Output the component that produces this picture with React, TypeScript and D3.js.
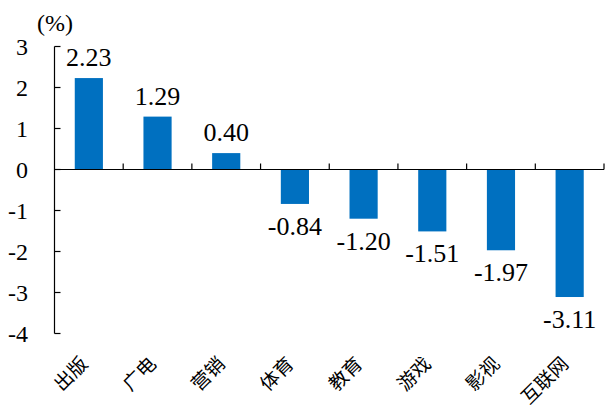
import React from "react";
import * as d3 from "d3";

const categories = ["出版", "广电", "营销", "体育", "教育", "游戏", "影视", "互联网"];
const values = [2.23, 1.29, 0.4, -0.84, -1.2, -1.51, -1.97, -3.11];
const yTicks = [3, 2, 1, 0, -1, -2, -3, -4];

export default function App() {
  const W = 605, H = 410;
  const x0 = 54.5, x1 = 604;
  const x = d3.scaleBand<string>().domain(categories).range([x0, x1]).paddingInner(0.59).paddingOuter(0.295);
  const step = (x1 - x0) / categories.length;
  const y = d3.scaleLinear().domain([-4, 3]).range([333.5, 46.5]);
  const serif: React.CSSProperties = { fontFamily: "Liberation Serif" };
  const cjk: React.CSSProperties = { fontFamily: "Noto Sans CJK SC" };
  return (
    <svg width={W} height={H} style={{ position: "absolute", left: 0, top: 0 }}>
      <text x={55} y={31} style={serif} fontSize={24} textAnchor="middle">(%)</text>
      {values.map((v, i) => {
        const c = categories[i];
        const top = y(Math.max(0, v));
        const h = Math.abs(y(v) - y(0));
        return <rect key={c} x={x(c)} y={top} width={x.bandwidth()} height={h} fill="#0070C0" />;
      })}
      <line x1={x0} x2={x0} y1={y(3)} y2={y(-4)} stroke="#000" strokeWidth={1.2} />
      {yTicks.map(t => (
        <g key={t}>
          <line x1={x0} x2={x0 + 6} y1={y(t)} y2={y(t)} stroke="#000" strokeWidth={1.2} />
          <text x={28} y={y(t) + 8.3} style={serif} fontSize={24} textAnchor="end">{t}</text>
        </g>
      ))}
      <line x1={x0} x2={x1} y1={y(0)} y2={y(0)} stroke="#000" strokeWidth={1.2} />
      {categories.map((c, i) => (
        <line key={c} x1={x0 + step * (i + 1)} x2={x0 + step * (i + 1)} y1={y(0)} y2={y(0) - 6} stroke="#000" strokeWidth={1.2} />
      ))}
      {values.map((v, i) => {
        const c = categories[i];
        const cx = (x(c) as number) + x.bandwidth() / 2;
        const ly = v >= 0 ? y(v) - 12 : y(v) + 31;
        return <text key={c} x={cx} y={ly} style={serif} fontSize={26} textAnchor="middle">{v.toFixed(2)}</text>;
      })}
      {categories.map(c => {
        const cx = (x(c) as number) + x.bandwidth() / 2;
        return (
          <text key={c} transform={`translate(${cx},${365}) rotate(-45)`} style={cjk} fontSize={19} textAnchor="end">{c}</text>
        );
      })}
    </svg>
  );
}
